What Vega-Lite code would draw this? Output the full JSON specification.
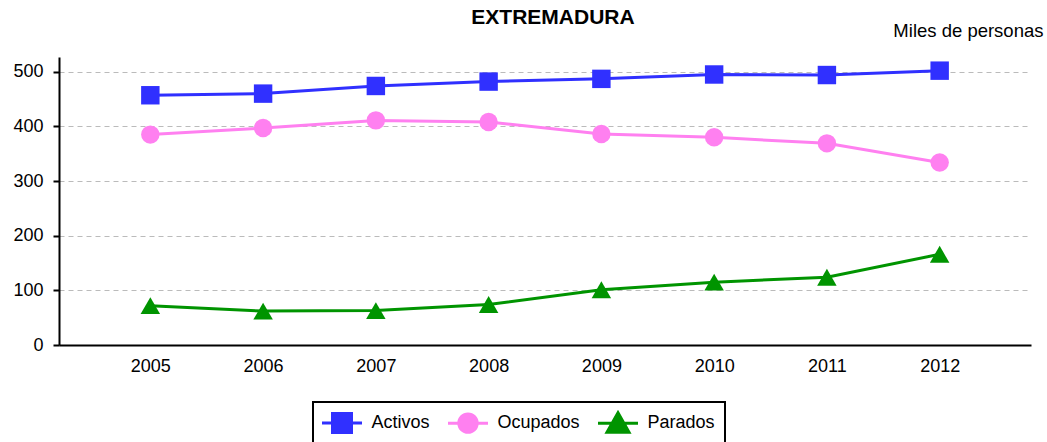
{
  "$schema": "https://vega.github.io/schema/vega-lite/v6.json",
  "width": 972,
  "height": 288,
  "autosize": {"type": "none"},
  "padding": {"left": 59, "top": 57, "right": 16, "bottom": 97},
  "background": "white",
  "title": {
    "text": "EXTREMADURA",
    "font": "Liberation Sans",
    "fontSize": 21,
    "fontWeight": "bold",
    "color": "black",
    "anchor": "middle",
    "baseline": "alphabetic",
    "dx": 8,
    "offset": -24
  },
  "config": {
    "view": {"stroke": null},
    "font": "Liberation Sans"
  },
  "data": {
    "values": [
      {"year": "2005", "serie": "Activos", "valor": 457},
      {"year": "2006", "serie": "Activos", "valor": 460},
      {"year": "2007", "serie": "Activos", "valor": 474},
      {"year": "2008", "serie": "Activos", "valor": 482},
      {"year": "2009", "serie": "Activos", "valor": 487},
      {"year": "2010", "serie": "Activos", "valor": 495},
      {"year": "2011", "serie": "Activos", "valor": 494},
      {"year": "2012", "serie": "Activos", "valor": 502},
      {"year": "2005", "serie": "Ocupados", "valor": 385},
      {"year": "2006", "serie": "Ocupados", "valor": 397},
      {"year": "2007", "serie": "Ocupados", "valor": 411},
      {"year": "2008", "serie": "Ocupados", "valor": 408},
      {"year": "2009", "serie": "Ocupados", "valor": 386},
      {"year": "2010", "serie": "Ocupados", "valor": 380},
      {"year": "2011", "serie": "Ocupados", "valor": 369},
      {"year": "2012", "serie": "Ocupados", "valor": 334},
      {"year": "2005", "serie": "Parados", "valor": 72},
      {"year": "2006", "serie": "Parados", "valor": 62},
      {"year": "2007", "serie": "Parados", "valor": 63},
      {"year": "2008", "serie": "Parados", "valor": 74},
      {"year": "2009", "serie": "Parados", "valor": 101},
      {"year": "2010", "serie": "Parados", "valor": 115},
      {"year": "2011", "serie": "Parados", "valor": 124},
      {"year": "2012", "serie": "Parados", "valor": 166}
    ]
  },
  "encoding": {
    "x": {
      "field": "year",
      "type": "ordinal",
      "scale": {"type": "point", "padding": 0.81},
      "axis": {
        "title": null,
        "labelAngle": 0,
        "labelFont": "Liberation Sans",
        "labelFontSize": 18,
        "labelColor": "black",
        "labelPadding": 12,
        "ticks": false,
        "domainColor": "black",
        "domainWidth": 2,
        "grid": false
      }
    },
    "y": {
      "field": "valor",
      "type": "quantitative",
      "scale": {"domain": [0, 527], "nice": false, "zero": true},
      "axis": {
        "values": [0, 100, 200, 300, 400, 500],
        "title": "Miles de personas",
        "titleAngle": 0,
        "titleAlign": "right",
        "titleBaseline": "alphabetic",
        "titleX": 984,
        "titleY": -21,
        "titleFont": "Liberation Sans",
        "titleFontSize": 18.5,
        "titleFontWeight": "normal",
        "titleColor": "black",
        "labelFont": "Liberation Sans",
        "labelFontSize": 18,
        "labelColor": "black",
        "labelPadding": 10,
        "tickColor": "black",
        "tickSize": 6,
        "tickWidth": 2,
        "domainColor": "black",
        "domainWidth": 2,
        "grid": true,
        "gridColor": "#bbbbbb",
        "gridDash": [5, 4],
        "gridWidth": 1
      }
    },
    "color": {
      "field": "serie",
      "type": "nominal",
      "scale": {
        "domain": ["Activos", "Ocupados", "Parados"],
        "range": ["#3030ff", "#ff80f0", "#009400"]
      },
      "legend": {
        "title": null,
        "orient": "none",
        "legendX": 254,
        "legendY": 345,
        "direction": "horizontal",
        "strokeColor": "black",
        "fillColor": "white",
        "padding": 9.5,
        "symbolSize": 400,
        "symbolOffset": 8,
        "labelOffset": 18,
        "columnPadding": 11,
        "labelFont": "Liberation Sans",
        "labelFontSize": 18,
        "labelColor": "black",
        "encode": {
          "legend": {
            "update": {
              "strokeWidth": {"value": 2}
            }
          },
          "symbols": {
            "update": {
              "shape": {"signal": "datum.value === 'Activos' ? 'M-2,0L2,0M-0.95,-0.95L0.95,-0.95L0.95,0.95L-0.95,0.95Z' : datum.value === 'Ocupados' ? 'M-2,0L2,0M0.92,0A0.92,0.92 0 1,1 -0.92,0A0.92,0.92 0 1,1 0.92,0Z' : 'M-2,0L2,0M0,-1.05L1.1,0.9L-1.1,0.9Z'"},
              "fill": {"signal": "scale('color', datum.value)"},
              "stroke": {"signal": "scale('color', datum.value)"},
              "strokeWidth": {"value": 3},
              "opacity": {"value": 1},
              "fillOpacity": {"value": 1}
            }
          }
        }
      }
    }
  },
  "layer": [
    {
      "mark": {"type": "line", "strokeWidth": 3}
    },
    {
      "transform": [{"filter": "datum.serie === 'Activos'"}],
      "mark": {"type": "point", "shape": "square", "filled": true, "size": 340, "opacity": 1}
    },
    {
      "transform": [{"filter": "datum.serie === 'Ocupados'"}],
      "mark": {"type": "point", "shape": "circle", "filled": true, "size": 340, "opacity": 1}
    },
    {
      "transform": [{"filter": "datum.serie === 'Parados'"}],
      "mark": {"type": "point", "shape": "triangle-up", "filled": true, "size": 380, "opacity": 1}
    }
  ]
}
